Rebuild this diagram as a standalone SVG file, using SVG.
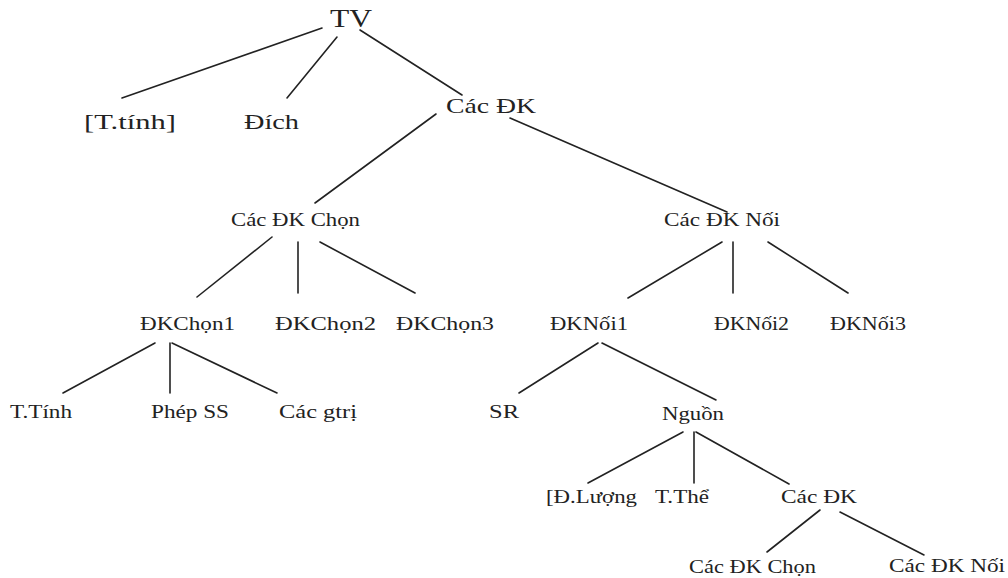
<svg xmlns="http://www.w3.org/2000/svg" width="1008" height="578" viewBox="0 0 1008 578">
<style>
text{font-family:"Liberation Serif","Times New Roman",serif;fill:#222}
.l{font-size:22px}
.s{font-size:18px}
#connectors line{stroke:#222;stroke-width:1.6;stroke-linecap:round}
</style>
<rect width="1008" height="578" fill="#fff"/>
<g id="connectors">
<line x1="322" y1="28" x2="122" y2="98"/>
<line x1="337" y1="37" x2="287" y2="98"/>
<line x1="360" y1="30" x2="462" y2="95"/>
<line x1="436" y1="114" x2="315" y2="203"/>
<line x1="510" y1="118" x2="727" y2="212"/>
<line x1="272" y1="237" x2="197" y2="297"/>
<line x1="298" y1="242" x2="298" y2="293"/>
<line x1="320" y1="242" x2="415" y2="293"/>
<line x1="722" y1="242" x2="628" y2="298"/>
<line x1="733" y1="242" x2="733" y2="293"/>
<line x1="768" y1="242" x2="848" y2="293"/>
<line x1="155" y1="343" x2="63" y2="393"/>
<line x1="170" y1="343" x2="170" y2="393"/>
<line x1="172" y1="343" x2="277" y2="393"/>
<line x1="598" y1="343" x2="519" y2="393"/>
<line x1="602" y1="343" x2="716" y2="400"/>
<line x1="683" y1="432" x2="588" y2="483"/>
<line x1="694" y1="432" x2="694" y2="483"/>
<line x1="696" y1="432" x2="789" y2="484"/>
<line x1="820" y1="510" x2="767" y2="552"/>
<line x1="840" y1="512" x2="924" y2="555"/>
</g>
<g id="n-tv"><text x="330" y="27" font-size="25" textLength="42" lengthAdjust="spacingAndGlyphs">TV</text></g>
<g id="n-ttinh"><text class="l" x="84" y="129" textLength="92" lengthAdjust="spacingAndGlyphs">[T.tính]</text></g>
<g id="n-dich"><text class="l" x="244" y="129" textLength="55" lengthAdjust="spacingAndGlyphs">Đích</text></g>
<g id="n-cacdk"><text class="l" x="446" y="113" textLength="90" lengthAdjust="spacingAndGlyphs">Các ĐK</text></g>
<g id="n-dkchon"><text class="s" x="231" y="226" textLength="129" lengthAdjust="spacingAndGlyphs">Các ĐK Chọn</text></g>
<g id="n-dknoi"><text class="s" x="664" y="226" textLength="116" lengthAdjust="spacingAndGlyphs">Các ĐK Nối</text></g>
<g id="n-chon1"><text class="s" x="140" y="330" textLength="95" lengthAdjust="spacingAndGlyphs">ĐKChọn1</text></g>
<g id="n-chon2"><text class="s" x="275" y="330" textLength="101" lengthAdjust="spacingAndGlyphs">ĐKChọn2</text></g>
<g id="n-chon3"><text class="s" x="396" y="330" textLength="98" lengthAdjust="spacingAndGlyphs">ĐKChọn3</text></g>
<g id="n-noi1"><text class="s" x="550" y="330" textLength="78" lengthAdjust="spacingAndGlyphs">ĐKNối1</text></g>
<g id="n-noi2"><text class="s" x="714" y="330" textLength="75" lengthAdjust="spacingAndGlyphs">ĐKNối2</text></g>
<g id="n-noi3"><text class="s" x="830" y="330" textLength="76" lengthAdjust="spacingAndGlyphs">ĐKNối3</text></g>
<g id="n-ttinh2"><text class="s" x="10" y="418" textLength="62" lengthAdjust="spacingAndGlyphs">T.Tính</text></g>
<g id="n-phepss"><text class="s" x="151" y="418" textLength="78" lengthAdjust="spacingAndGlyphs">Phép SS</text></g>
<g id="n-cacgtri"><text class="s" x="279" y="418" textLength="78" lengthAdjust="spacingAndGlyphs">Các gtrị</text></g>
<g id="n-sr"><text class="s" x="489" y="418" textLength="30" lengthAdjust="spacingAndGlyphs">SR</text></g>
<g id="n-nguon"><text class="s" x="662" y="420" textLength="62" lengthAdjust="spacingAndGlyphs">Nguồn</text></g>
<g id="n-dluong"><text class="s" x="546" y="503" textLength="91" lengthAdjust="spacingAndGlyphs">[Đ.Lượng</text></g>
<g id="n-tthe"><text class="s" x="655" y="503" textLength="54" lengthAdjust="spacingAndGlyphs">T.Thể</text></g>
<g id="n-cacdk2"><text class="s" x="781" y="503" textLength="76" lengthAdjust="spacingAndGlyphs">Các ĐK</text></g>
<g id="n-cacdkchon2"><text class="s" x="689" y="573" textLength="127" lengthAdjust="spacingAndGlyphs">Các ĐK Chọn</text></g>
<g id="n-cacdknoi2"><text class="s" x="889" y="572" textLength="116" lengthAdjust="spacingAndGlyphs">Các ĐK Nối</text></g>
</svg>
